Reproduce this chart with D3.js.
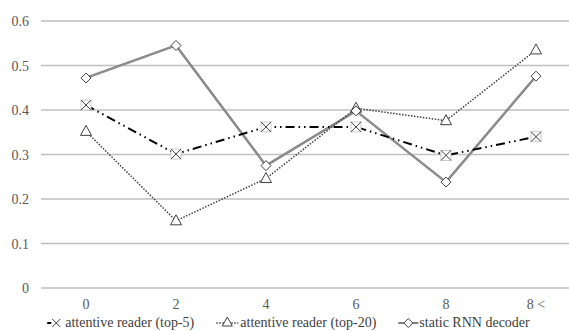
<!DOCTYPE html>
<html><head><meta charset="utf-8">
<script src="https://cdn.jsdelivr.net/npm/d3@7"></script>
<style>
html, body { margin: 0; background: #fff; font-family: "Liberation Serif"; }
#wrap { font-family: "Liberation Serif"; width: 569px; height: 331px; }
svg { display: block; }
svg text { font-family: "Liberation Serif" !important; }
</style>
</head><body>
<div id="wrap"><svg id="c" width="569" height="331"></svg></div>
<script>
const categories = ["0","2","4","6","8","8 <"];
const top5 = [0.411, 0.301, 0.362, 0.362, 0.298, 0.340];
const top20 = [0.352, 0.151, 0.246, 0.404, 0.376, 0.535];
const staticRNN = [0.472, 0.545, 0.275, 0.398, 0.238, 0.476];
const yTicks = [0, 0.1, 0.2, 0.3, 0.4, 0.5, 0.6];
const seriesNames = ["attentive reader (top-5)", "attentive reader (top-20)", "static RNN decoder"];

const svg = d3.select("#c");
const fs = 14;
const x = d3.scaleBand().domain(categories).range([41, 581]);
const y = d3.scaleLinear().domain([0, 0.6]).range([288, 21]);
const cx = c => x(c) + x.bandwidth() / 2;

svg.selectAll("line.grid").data(yTicks).join("line").attr("class", "grid")
  .attr("x1", 41).attr("x2", 581)
  .attr("y1", d => y(d)).attr("y2", d => y(d))
  .attr("stroke", "#bfbfbf").attr("stroke-width", 1.3);

svg.selectAll("text.yt").data(yTicks).join("text").attr("class", "yt")
  .attr("x", 29).attr("y", d => y(d) + 5).attr("text-anchor", "end")
  .attr("font-size", fs).attr("fill", "#595959")
  .text(d => d === 0 ? "0" : d.toFixed(1));

svg.selectAll("text.xt").data(categories).join("text").attr("class", "xt")
  .attr("x", d => cx(d)).attr("y", 309).attr("text-anchor", "middle")
  .attr("font-size", fs).attr("fill", "#595959")
  .text(d => d);

const line = d3.line().x((d, i) => cx(categories[i])).y(d => y(d));

svg.append("path").datum(staticRNN).attr("d", line).attr("fill", "none")
  .attr("stroke", "#7f7f7f").attr("stroke-width", 2.4);
svg.append("path").datum(staticRNN).attr("d", line).attr("fill", "none")
  .attr("stroke", "#a6a6a6").attr("stroke-width", 0.6);
svg.append("path").datum(top20).attr("d", line).attr("fill", "none")
  .attr("stroke", "#404040").attr("stroke-width", 1.5).attr("stroke-dasharray", "1.5 1.5");
svg.append("path").datum(top5).attr("d", line).attr("fill", "none")
  .attr("stroke", "#000").attr("stroke-width", 2).attr("stroke-dasharray", "9 4 1.5 4 1.5 4");

function xMarker(g, px, py) {
  g.append("rect").attr("x", px - 5).attr("y", py - 5).attr("width", 10).attr("height", 10)
    .attr("fill", "#fff").attr("stroke", "#bfbfbf").attr("stroke-width", 0.8);
  g.append("path").attr("d", `M${px-5},${py-5}L${px+5},${py+5}M${px+5},${py-5}L${px-5},${py+5}`)
    .attr("stroke", "#404040").attr("stroke-width", 1).attr("fill", "none");
}
function triMarker(g, px, py) {
  g.append("path").attr("d", `M${px},${py-6}L${px+5.5},${py+4}L${px-5.5},${py+4}Z`)
    .attr("fill", "#fff").attr("stroke", "#404040").attr("stroke-width", 1);
}
function diaMarker(g, px, py) {
  g.append("path").attr("d", `M${px},${py-5}L${px+5},${py}L${px},${py+5}L${px-5},${py}Z`)
    .attr("fill", "#fff").attr("stroke", "#404040").attr("stroke-width", 1);
}

top20.forEach((v, i) => triMarker(svg, cx(categories[i]), y(v)));
staticRNN.forEach((v, i) => diaMarker(svg, cx(categories[i]), y(v)));
top5.forEach((v, i) => xMarker(svg, cx(categories[i]), y(v)));

// legend, laid out from measured text widths so entries never overlap
const ly = 327;
const lg = svg.append("g");
const texts = lg.selectAll("text.lg").data(seriesNames).join("text").attr("class", "lg")
  .attr("y", ly).attr("font-size", fs).attr("fill", "#404040").text(d => d);
const widths = [];
texts.each(function() { widths.push(this.getComputedTextLength()); });
const sampleW = [18, 24, 21];
const gap = 22;
const total = d3.sum(widths) + d3.sum(sampleW) + gap * 2;
let cur = Math.max(4, (569 - total) / 2 + 4);
const starts = [];
for (let i = 0; i < 3; i++) { starts.push(cur); cur += sampleW[i] + widths[i] + gap; }
texts.attr("x", (d, i) => starts[i] + sampleW[i]);

// sample 1: short dash + X
let s = starts[0];
lg.append("line").attr("x1", s).attr("x2", s + 4).attr("y1", ly - 4).attr("y2", ly - 4)
  .attr("stroke", "#000").attr("stroke-width", 2);
lg.append("path").attr("d", `M${s+5},${ly-8}L${s+13},${ly}M${s+13},${ly-8}L${s+5},${ly}`)
  .attr("stroke", "#404040").attr("stroke-width", 1).attr("fill", "none");
// sample 2: dotted + triangle
s = starts[1];
lg.append("line").attr("x1", s).attr("x2", s + 22).attr("y1", ly - 4).attr("y2", ly - 4)
  .attr("stroke", "#404040").attr("stroke-width", 1.5).attr("stroke-dasharray", "1.5 1.5");
lg.append("path").attr("d", `M${s+11},${ly-10}L${s+16},${ly-1}L${s+6},${ly-1}Z`)
  .attr("fill", "#fff").attr("stroke", "#404040").attr("stroke-width", 1);
// sample 3: gray line + diamond
s = starts[2];
lg.append("line").attr("x1", s).attr("x2", s + 20).attr("y1", ly - 4).attr("y2", ly - 4)
  .attr("stroke", "#7f7f7f").attr("stroke-width", 2);
lg.append("path").attr("d", `M${s+10},${ly-8.5}L${s+14.5},${ly-4}L${s+10},${ly+0.5}L${s+5.5},${ly-4}Z`)
  .attr("fill", "#fff").attr("stroke", "#404040").attr("stroke-width", 1);
</script>
</body></html>
